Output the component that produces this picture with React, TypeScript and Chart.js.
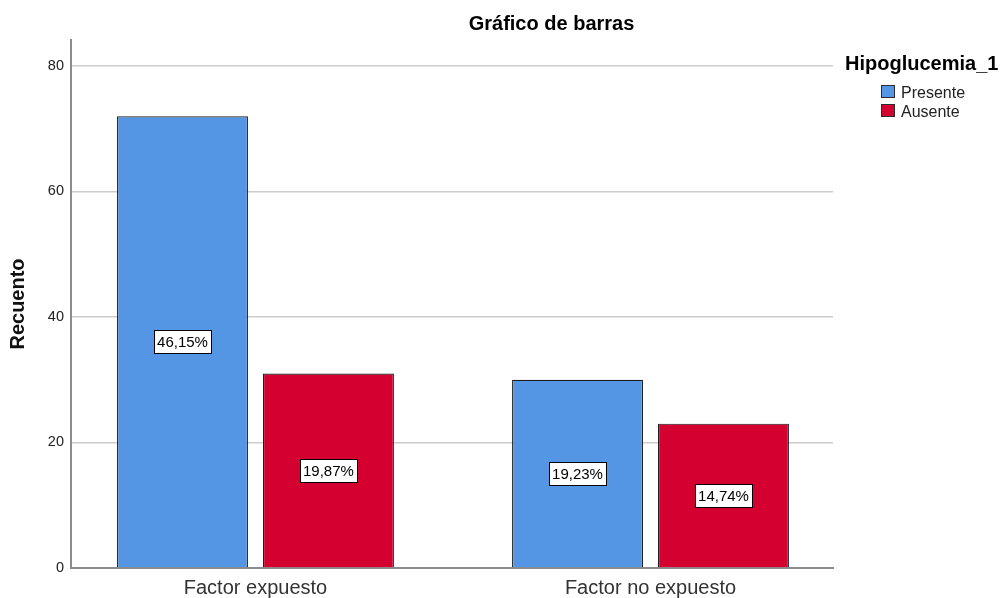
import React, { useEffect, useRef } from "react";
import { Chart, registerables } from "chart.js";

Chart.register(...registerables);

const chartTitle = "Gráfico de barras";
const legendTitle = "Hipoglucemia_1";
const categories = ["Factor expuesto", "Factor no expuesto"];
const seriesLabels = ["Presente", "Ausente"];
const presente = [72, 30];
const ausente = [31, 23];
const yTicks = [0, 20, 40, 60, 80];
const seriesColors = ["#5596E4", "#D4002F"];
const yAxisTitle = "Recuento";

const FONT = '"Liberation Sans", Arial, Helvetica, sans-serif';

const total = [...presente, ...ausente].reduce((a, b) => a + b, 0);
const pct = (v: number) => ((v / total) * 100).toFixed(2).replace(".", ",") + "%";

const labelsPlugin = {
  id: "pctLabels",
  afterDatasetsDraw(chart: any) {
    const ctx = chart.ctx;
    ctx.save();
    ctx.font = `15px ${FONT}`;
    ctx.textAlign = "center";
    ctx.textBaseline = "middle";
    chart.data.datasets.forEach((ds: any, d: number) => {
      const meta = chart.getDatasetMeta(d);
      meta.data.forEach((el: any, i: number) => {
        const v = ds.data[i].y;
        const text = pct(v);
        const cx = el.x;
        const cy = (el.y + el.base) / 2;
        const w = Math.round(ctx.measureText(text).width + 6);
        const h = 23;
        const x0 = Math.round(cx - w / 2) + 0.5;
        const y0 = Math.round(cy - h / 2) + 0.5;
        ctx.fillStyle = "#ffffff";
        ctx.fillRect(x0, y0, w, h);
        ctx.strokeStyle = "#000000";
        ctx.lineWidth = 1;
        ctx.strokeRect(x0, y0, w, h);
        ctx.fillStyle = "#000000";
        ctx.fillText(text, cx, y0 + h / 2 + 0.5);
      });
    });
    ctx.restore();
  },
};

const titleLegendPlugin = {
  id: "titleLegend",
  afterDraw(chart: any) {
    const ctx = chart.ctx;
    ctx.save();
    ctx.textBaseline = "alphabetic";
    ctx.fillStyle = "#000000";
    ctx.font = `bold 20px ${FONT}`;
    ctx.textAlign = "center";
    ctx.fillText(chartTitle, 551.5, 30);

    ctx.textAlign = "left";
    ctx.fillText(legendTitle, 845, 70);

    ctx.font = `16px ${FONT}`;
    chart.data.datasets.forEach((ds: any, d: number) => {
      const top = 85 + d * 19;
      ctx.fillStyle = ds.backgroundColor;
      ctx.fillRect(881, top, 14, 13);
      ctx.strokeStyle = "#2b2b2b";
      ctx.lineWidth = 1;
      ctx.strokeRect(881.5, top + 0.5, 13, 12);
      ctx.fillStyle = "#222222";
      ctx.fillText(ds.label, 901, top + 13);
    });
    ctx.restore();
  },
};

export default function App() {
  const canvasRef = useRef<HTMLCanvasElement | null>(null);

  useEffect(() => {
    document.body.style.margin = "0";
    const canvas = canvasRef.current;
    if (!canvas) return;
    const chart = new Chart(canvas, {
      type: "bar",
      data: {
        datasets: [presente, ausente].map((vals, d) => ({
          label: seriesLabels[d],
          data: vals.map((v, i) => ({ x: i, y: v })),
          backgroundColor: seriesColors[d],
          borderColor: "#1e1e1e",
          borderWidth: 1.2,
          categoryPercentage: 0.739,
          barPercentage: 0.897,
        })),
      } as any,
      options: {
        responsive: false,
        animation: false,
        events: [],
        layout: { padding: { top: 40, right: 175, left: 0, bottom: 0 } },
        plugins: {
          legend: { display: false },
          title: { display: false },
          tooltip: { enabled: false },
        },
        scales: {
          x: {
            type: "linear",
            offset: false,
            min: -0.467,
            max: 1.462,
            afterBuildTicks: (s: any) => {
              s.ticks = categories.map((_, i) => ({ value: i }));
            },
            afterFit: (s: any) => {
              s.height = 30;
            },
            grid: { display: false, drawTicks: false, offset: false },
            border: { display: true, color: "#8c8c8c", width: 2 },
            ticks: {
              callback: (v: any) => categories[v],
              font: { family: FONT, size: 20 },
              color: "#333333",
              padding: 8,
              autoSkip: false,
              maxRotation: 0,
            },
          },
          y: {
            min: 0,
            max: 84.14,
            afterBuildTicks: (s: any) => {
              s.ticks = yTicks.map((v) => ({ value: v }));
            },
            afterFit: (s: any) => {
              s.width = 71;
            },
            grid: { color: "#cccccc", lineWidth: 1.5, drawTicks: false },
            border: { color: "#8c8c8c", width: 2 },
            ticks: {
              font: { family: FONT, size: 14.5 },
              color: "#222222",
              padding: 7,
            },
            title: {
              display: true,
              text: yAxisTitle,
              font: { family: FONT, size: 20, weight: "bold" },
              color: "#111111",
              padding: { top: 6, bottom: 0 },
            },
          },
        },
      } as any,
      plugins: [labelsPlugin, titleLegendPlugin],
    });
    return () => chart.destroy();
  }, []);

  return (
    <div style={{ position: "fixed", left: 0, top: 0, width: 1008, height: 598, background: "#ffffff" }}>
      <canvas ref={canvasRef} width={1008} height={598} style={{ display: "block" }} />
    </div>
  );
}
